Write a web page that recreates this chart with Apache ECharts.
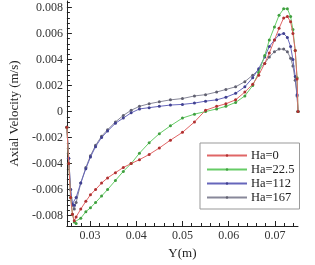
<!DOCTYPE html>
<html>
<head>
<meta charset="utf-8">
<script src="https://cdn.jsdelivr.net/npm/echarts@6/dist/echarts.min.js"></script>
<style>
  html, body { margin: 0; padding: 0; background: #fff; }
  #main { width: 315px; height: 265px; }
</style>
</head>
<body>
<div id="main"></div>
<script>
// y position along the channel (m)
var yPos = [0.0250, 0.0254, 0.0258, 0.0262, 0.0266, 0.0270, 0.0280, 0.0291, 0.0301, 0.0312,
  0.0325, 0.0338, 0.0355, 0.0372, 0.0389, 0.0407, 0.0428, 0.0450, 0.0474, 0.0500,
  0.0526, 0.0550, 0.0574, 0.0594, 0.0615, 0.0635, 0.0652, 0.0665, 0.0678, 0.0688,
  0.0699, 0.0709, 0.0719, 0.0727, 0.0734, 0.0739, 0.0744, 0.0748, 0.0750];

// axial velocity (m/s) per Hartmann number
var ha0 = [-0.0012, -0.0040, -0.0066, -0.0079, -0.0084, -0.0081, -0.0075, -0.0069, -0.0064, -0.0060,
  -0.0055, -0.0051, -0.0047, -0.0043, -0.0040, -0.0037, -0.0033, -0.0028, -0.0022, -0.0016,
  -0.0008, 0.0001, 0.0004, 0.0006, 0.0009, 0.0015, 0.0021, 0.0028, 0.0037, 0.0045,
  0.0055, 0.0064, 0.0072, 0.0073, 0.0069, 0.0060, 0.0047, 0.0025, 0.0000];
var ha22 = [-0.0012, -0.0040, -0.0066, -0.0079, -0.0085, -0.0086, -0.0082, -0.0077, -0.0074, -0.0070,
  -0.0065, -0.0060, -0.0053, -0.0046, -0.0040, -0.0032, -0.0024, -0.0017, -0.0011, -0.0005,
  -0.0002, 0.0000, 0.0002, 0.0004, 0.0007, 0.0012, 0.0020, 0.0030, 0.0043, 0.0055,
  0.0065, 0.0074, 0.0079, 0.0079, 0.0073, 0.0063, 0.0047, 0.0026, 0.0000];
var ha112 = [-0.0012, -0.0036, -0.0060, -0.0071, -0.0072, -0.0066, -0.0055, -0.0044, -0.0035, -0.0027,
  -0.0020, -0.0015, -0.0009, -0.0005, -0.0001, 0.0002, 0.0003, 0.0004, 0.0005, 0.00055,
  0.00065, 0.0008, 0.0009, 0.0011, 0.0014, 0.0019, 0.0026, 0.0033, 0.0042, 0.0050,
  0.0055, 0.0059, 0.0060, 0.0057, 0.0050, 0.0040, 0.0027, 0.0013, 0.0000];
var ha167 = [-0.0012, -0.0036, -0.0060, -0.0072, -0.0075, -0.0070, -0.0055, -0.0043, -0.0034, -0.0026,
  -0.0019, -0.0014, -0.0008, -0.0003, 0.0001, 0.0004, 0.0006, 0.00075, 0.0009, 0.0010,
  0.0012, 0.0013, 0.0015, 0.0017, 0.0019, 0.0023, 0.0028, 0.0032, 0.0037, 0.0042,
  0.0046, 0.0048, 0.0048, 0.0046, 0.0041, 0.0035, 0.0024, 0.0012, 0.0000];

var seriesNames = ["Ha=0", "Ha=22.5", "Ha=112", "Ha=167"];
var lineColors = ["#e06666", "#66cc66", "#6666bb", "#888899"];
var dotColors = ["#b03030", "#40a040", "#404090", "#606070"];

var xTicks = [0.03, 0.04, 0.05, 0.06, 0.07];
var yTicks = [-0.008, -0.006, -0.004, -0.002, 0, 0.002, 0.004, 0.006, 0.008];

var xMin = 0.025, xMax = 0.075, yMin = -0.0088, yMax = 0.0085;

// minor ticks: 5 divisions between major ticks
function minorTicks(min, max, step) {
  var out = [];
  var start = Math.ceil(min / step - 1e-9);
  for (var k = start; k * step <= max + 1e-12; k++) {
    var v = +(k * step).toFixed(6);
    if (Math.abs(v / (step * 5) - Math.round(v / (step * 5))) > 1e-6) out.push(v);
  }
  return out;
}
var xMinor = minorTicks(xMin, xMax, 0.002);
var yMinor = minorTicks(yMin, yMax, 0.0004);

function pairs(ys) {
  var d = [];
  for (var i = 0; i < yPos.length; i++) d.push([yPos[i], ys[i]]);
  return d;
}

var font = "Liberation Serif";
var all = [ha0, ha22, ha112, ha167];
var series = [];
for (var s = 0; s < all.length; s++) {
  series.push({
    name: seriesNames[s],
    type: "line",
    data: pairs(all[s]),
    symbol: "circle",
    symbolSize: 3,
    showSymbol: true,
    lineStyle: { color: lineColors[s], width: 1 },
    itemStyle: { color: dotColors[s] },
    z: 10 - s
  });
}

var myChart = echarts.init(document.getElementById("main"));
var option = {
  animation: false,
  backgroundColor: "#fff",
  grid: { left: 52, right: 17, top: 1, bottom: 39 },
  legend: {
    orient: "vertical",
    left: 200,
    top: 143,
    padding: [6, 5, 5, 6],
    borderColor: "#999",
    borderWidth: 1,
    backgroundColor: "#fff",
    itemWidth: 40,
    itemHeight: 3,
    itemGap: 1,
    data: seriesNames,
    textStyle: { fontFamily: font, fontSize: 12.5, color: "#222", lineHeight: 11, padding: [0, 0, 0, -1] }
  },
  xAxis: [
    {
      type: "value",
      min: xMin,
      max: xMax,
      name: "Y(m)",
      nameLocation: "middle",
      nameGap: 17,
      nameTextStyle: { fontFamily: font, fontSize: 13, color: "#222" },
      axisLine: { onZero: false, lineStyle: { color: "#222", width: 1 } },
      axisTick: { inside: true, length: 5, customValues: xTicks, lineStyle: { color: "#222" } },
      axisLabel: {
        customValues: xTicks,
        fontFamily: font,
        fontSize: 12,
        color: "#333",
        margin: 4,
        formatter: function(v) { return v.toFixed(2); }
      },
      splitLine: { show: false }
    },
    {
      type: "value",
      position: "bottom",
      min: xMin,
      max: xMax,
      axisLine: { show: false, onZero: false },
      axisTick: { inside: true, length: 3, customValues: xMinor, lineStyle: { color: "#222" } },
      axisLabel: { show: false },
      splitLine: { show: false }
    }
  ],
  yAxis: [
    {
      type: "value",
      min: yMin,
      max: yMax,
      name: "Axial Velocity (m/s)",
      nameLocation: "middle",
      nameGap: 37,
      nameRotate: 90,
      nameTextStyle: { fontFamily: font, fontSize: 13, color: "#222" },
      axisLine: { show: true, onZero: false, lineStyle: { color: "#222", width: 1 } },
      axisTick: { show: true, inside: true, length: 5, customValues: yTicks, lineStyle: { color: "#222" } },
      axisLabel: {
        customValues: yTicks,
        fontFamily: font,
        fontSize: 12,
        color: "#333",
        margin: 4,
        formatter: function(v) { return v === 0 ? "0" : v.toFixed(3); }
      },
      splitLine: { show: false }
    },
    {
      type: "value",
      position: "left",
      min: yMin,
      max: yMax,
      axisLine: { show: false, onZero: false },
      axisTick: { show: true, inside: true, length: 3, customValues: yMinor, lineStyle: { color: "#222" } },
      axisLabel: { show: false },
      splitLine: { show: false }
    }
  ],
  series: series
};
myChart.setOption(option);
</script>
</body>
</html>
